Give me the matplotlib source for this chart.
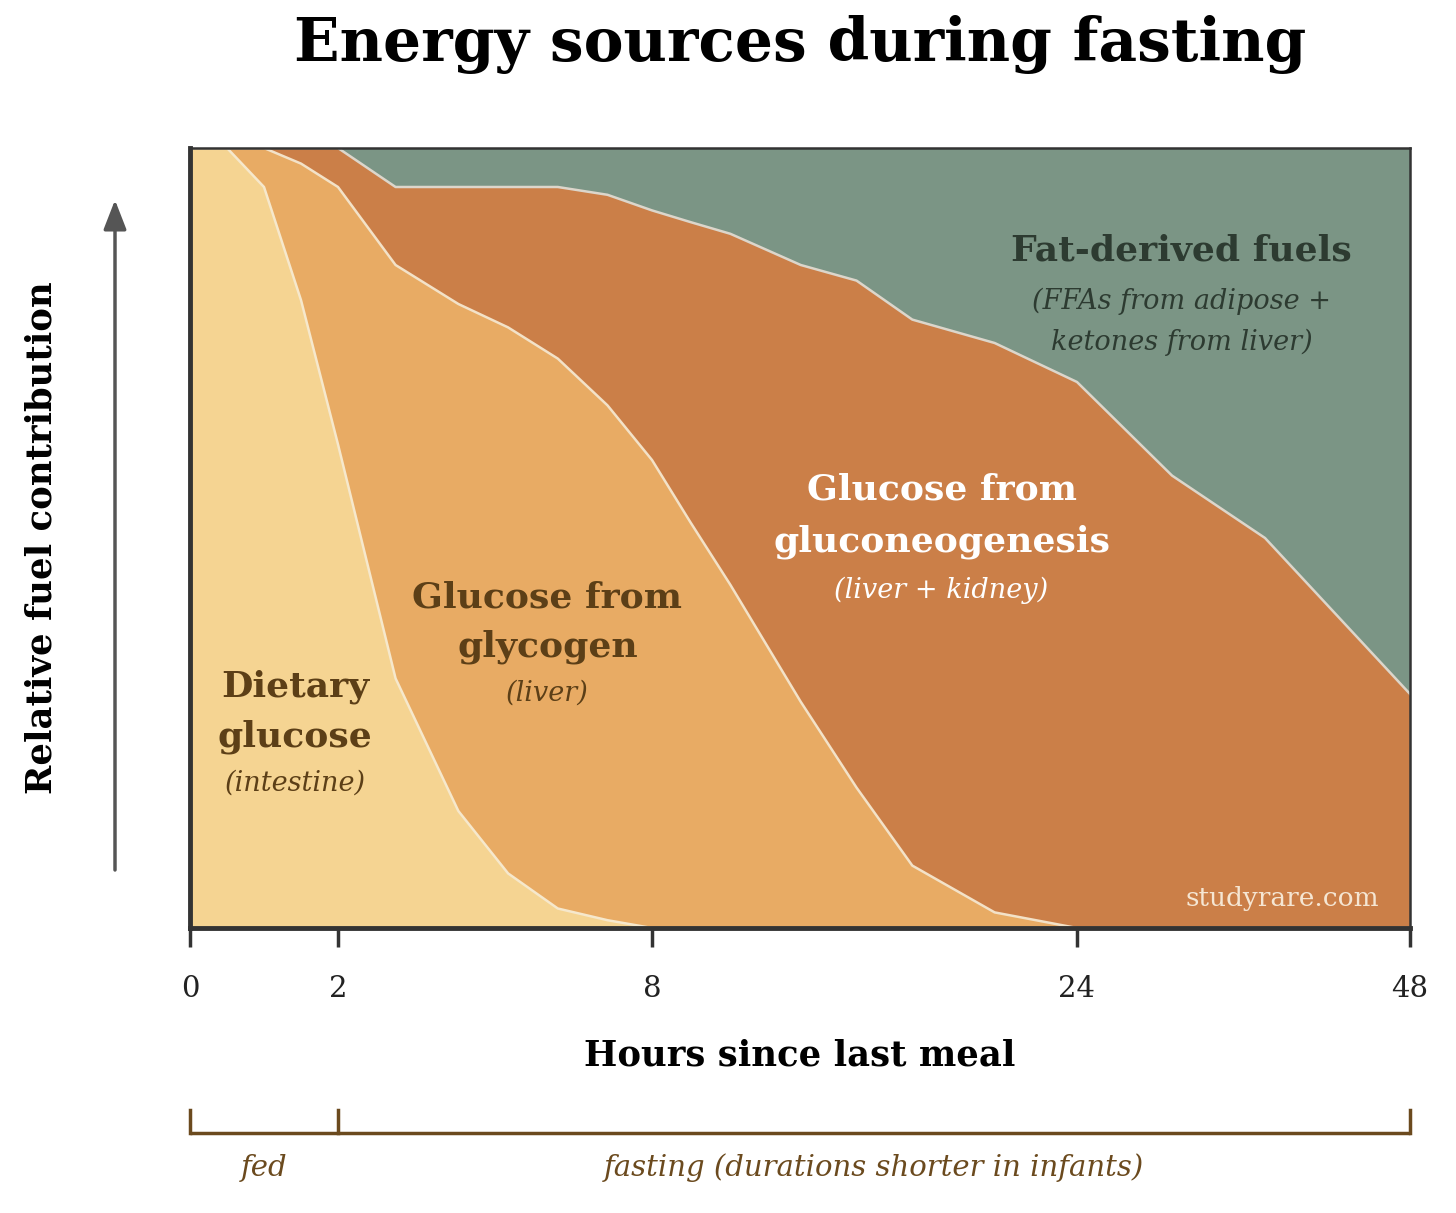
import numpy as np
import matplotlib
matplotlib.use('Agg')
import matplotlib.pyplot as plt
from matplotlib.transforms import blended_transform_factory

# ---------------- data ----------------
hours = [0, 0.5, 1, 1.5, 2, 3.1, 4.3, 5.25, 6.2, 7.15, 8, 9.45, 10.95,
         13.6, 15.7, 17.8, 20.9, 24, 30.85, 37.55, 48]
dietary = [100, 100, 95, 80.5, 62, 32, 15, 7, 2.5, 1, 0, 0, 0,
           0, 0, 0, 0, 0, 0, 0, 0]
glycogen = [0, 0, 5, 17.5, 33, 53, 65, 70, 70.5, 66, 60, 52, 44,
            29, 18, 8, 2, 0, 0, 0, 0]
gluconeo = [0, 0, 0, 2, 5, 10, 15, 18, 22, 27, 32, 38.5, 45,
            56, 65, 70, 73, 70, 58, 50, 30]
fat = [0, 0, 0, 0, 0, 5, 5, 5, 5, 6, 8, 9.5, 11,
       15, 17, 22, 25, 30, 42, 50, 70]

tick_hours = [0, 2, 8, 24, 48]
tick_labels = ['0', '2', '8', '24', '48']
# relative axis spacing between the hour ticks (non-linear time axis)
scale_breaks = [0, 148, 462, 887, 1220]

colors = ['#F5D492', '#E8AB64', '#CB7F48', '#7B9585']

plt.rcParams['font.family'] = ['DejaVu Serif']

fig = plt.figure(figsize=(14.56, 12.13), dpi=100)
W, H = 1456, 1213
ax = fig.add_axes([190 / W, 1 - 928 / H, 1220 / W, 780 / H])


def fwd(x):
    return np.interp(x, tick_hours, scale_breaks)


def inv(p):
    return np.interp(p, scale_breaks, tick_hours)


ax.set_xscale('function', functions=(fwd, inv))

ax.stackplot(hours, dietary, glycogen, gluconeo, fat, colors=colors,
             linewidth=0)
cum1 = np.array(dietary)
cum2 = cum1 + np.array(glycogen)
cum3 = cum2 + np.array(gluconeo)
ax.plot(hours, cum1, color='#F6E8CC', lw=1.8)
ax.plot(hours, cum2, color='#F3E2C8', lw=1.8)
ax.plot(hours, cum3, color='#DCD6CB', lw=1.8)

ax.set_xlim(0, 48)
ax.set_ylim(0, 100)
ax.set_yticks([])
ax.set_xticks(tick_hours)
ax.set_xticklabels(tick_labels)
ax.tick_params(axis='x', direction='out', length=14, width=2.5,
               color='#333333', pad=20, labelsize=21, labelcolor='#222222')
for s in ['left', 'bottom']:
    ax.spines[s].set_linewidth(3.5)
    ax.spines[s].set_color('#333333')
for s in ['top', 'right']:
    ax.spines[s].set_linewidth(1.8)
    ax.spines[s].set_color('#333333')

# region labels
brown = '#5C3F17'
BIG, SMALL = 26, 19.5


def lab(x, y, s, size, color, weight='bold', style='normal', ha='center'):
    ax.text(x, y, s, transform=ax.transAxes, ha=ha, va='center',
            fontsize=size, color=color, fontweight=weight, fontstyle=style)


lab(0.086, 0.309, 'Dietary', BIG, brown)
lab(0.086, 0.245, 'glucose', BIG, brown)
lab(0.086, 0.186, '(intestine)', SMALL, brown, weight='normal', style='italic')

lab(0.293, 0.424, 'Glucose from', BIG, brown)
lab(0.293, 0.360, 'glycogen', BIG, brown)
lab(0.293, 0.301, '(liver)', SMALL, brown, weight='normal', style='italic')

lab(0.616, 0.562, 'Glucose from', BIG, 'white')
lab(0.616, 0.495, 'gluconeogenesis', BIG, 'white')
lab(0.616, 0.433, '(liver + kidney)', SMALL, 'white', weight='normal', style='italic')

dark = '#2D3B31'
lab(0.813, 0.869, 'Fat-derived fuels', BIG, dark)
lab(0.813, 0.803, '(FFAs from adipose +', SMALL, dark, weight='normal', style='italic')
lab(0.813, 0.751, 'ketones from liver)', SMALL, dark, weight='normal', style='italic')

lab(0.975, 0.038, 'studyrare.com', 19, '#F5E6D3', weight='normal', ha='right')

# title & axis labels
fig.text(800 / W, 1 - 45 / H, 'Energy sources during fasting', ha='center',
         va='center', fontsize=43, fontweight='bold', color='black')
fig.text(800 / W, 1 - 1055 / H, 'Hours since last meal', ha='center',
         va='center', fontsize=25.5, fontweight='bold', color='black')
fig.text(42 / W, 1 - 538 / H, 'Relative fuel contribution', ha='center',
         va='center', rotation=90, fontsize=25.5, fontweight='bold', color='black')

# vertical arrow
ax.annotate('', xy=(115 / W, 1 - 200 / H), xytext=(115 / W, 1 - 870 / H),
            xycoords='figure fraction', textcoords='figure fraction',
            arrowprops=dict(arrowstyle='-|>,head_length=0.9,head_width=0.35',
                            mutation_scale=20, color='#555555', lw=2.5,
                            shrinkA=0, shrinkB=0))

# fed / fasting bracket
bc = '#6B4A1E'
tr = blended_transform_factory(ax.transData, ax.transAxes)
yb = (928 - 1133) / 780
yt = (928 - 1110) / 780
ax.plot([0, 48], [yb, yb], color=bc, lw=2.5, transform=tr, clip_on=False,
        solid_capstyle='butt')
for h in [0, 2, 48]:
    ax.plot([h, h], [yb, yt], color=bc, lw=2.5, transform=tr, clip_on=False)
ylab = (928 - 1168) / 780
fed_mid = float(inv((fwd(0) + fwd(2)) / 2))
fast_mid = float(inv((fwd(2) + fwd(48)) / 2))
ax.text(fed_mid, ylab, 'fed', transform=tr, ha='center', va='center',
        fontsize=21, fontstyle='italic', color=bc)
ax.text(fast_mid, ylab, 'fasting (durations shorter in infants)', transform=tr,
        ha='center', va='center', fontsize=21, fontstyle='italic', color=bc)

fig.savefig('out.png', dpi=100)
